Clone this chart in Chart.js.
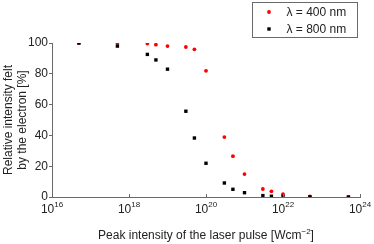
<!DOCTYPE html>
<html>
<head>
<meta charset="utf-8">
<script src="https://cdn.jsdelivr.net/npm/chart.js@4.4.0/dist/chart.umd.min.js"></script>
<style>
body { margin: 0; background: #fff; }
</style>
</head>
<body>
<canvas id="myChart" width="374" height="244"></canvas>
<script>
// peak intensity of the laser pulse (W/cm^2)
var intensity = [5e16, 5e17, 3e18, 5e18, 1e19, 3e19, 5e19, 1e20, 3e20, 5e20, 1e21, 3e21, 5e21, 1e22, 5e22, 5e23];
// relative intensity felt by the electron (%)
var relative400 = [100, 100, 99.6, 98.9, 98, 97.4, 95.9, 81.9, 38.9, 26.5, 14.9, 5.2, 3.7, 1.9, 0.4, 0];
var relative800 = [100, 98, 92.6, 89, 83, 55.7, 38.3, 21.9, 9.1, 5, 2.8, 0.9, 0.5, 0.4, 0.1, 0];
var seriesLabels = ['λ = 400 nm', 'λ = 800 nm'];
var xTickExp = [16, 18, 20, 22, 24];
var yTicks = [0, 20, 40, 60, 80, 100];

window.onload = function() {

var axisColor = '#6a6a6a';
var textColor = '#222';
var fontName = '"Liberation Sans", Arial, sans-serif';

function toPoints(ys) {
  var pts = [];
  for (var i = 0; i < intensity.length; i++) {
    pts.push({x: intensity[i], y: ys[i]});
  }
  return pts;
}

// x tick labels as 10^n, inside ticks, and the x axis title
var xAxisPlugin = {
  id: 'xAxisPlugin',
  afterDraw: function(chart) {
    var ctx = chart.ctx;
    var xs = chart.scales.x;
    var area = chart.chartArea;
    ctx.save();
    ctx.strokeStyle = axisColor;
    ctx.lineWidth = 1;
    ctx.fillStyle = textColor;
    ctx.textAlign = 'left';
    ctx.textBaseline = 'alphabetic';
    xTickExp.forEach(function(e) {
      var px = xs.getPixelForValue(Math.pow(10, e));
      ctx.beginPath();
      ctx.moveTo(Math.round(px) + 0.5, area.bottom);
      ctx.lineTo(Math.round(px) + 0.5, area.bottom - 3);
      ctx.stroke();
      ctx.font = '12px ' + fontName;
      var wb = ctx.measureText('10').width;
      ctx.font = '8px ' + fontName;
      var we = ctx.measureText(String(e)).width;
      var x0 = px - (wb + we) / 2;
      ctx.font = '12px ' + fontName;
      ctx.fillText('10', x0, area.bottom + 16);
      ctx.font = '8px ' + fontName;
      ctx.fillText(String(e), x0 + wb, area.bottom + 10);
    });
    // title
    var t1 = 'Peak intensity of the laser pulse [Wcm', t2 = '\u22122', t3 = ']';
    ctx.font = '12px ' + fontName;
    var w1 = ctx.measureText(t1).width, w3 = ctx.measureText(t3).width;
    ctx.font = '8px ' + fontName;
    var w2 = ctx.measureText(t2).width;
    var cx = (area.left + area.right) / 2;
    var sx = cx - (w1 + w2 + w3) / 2;
    var by = area.bottom + 42;
    ctx.font = '12px ' + fontName;
    ctx.fillText(t1, sx, by);
    ctx.fillText(t3, sx + w1 + w2, by);
    ctx.font = '8px ' + fontName;
    ctx.fillText(t2, sx + w1, by - 5);
    ctx.restore();
  }
};

// boxed legend in the top right corner
var boxLegend = {
  id: 'boxLegend',
  afterDraw: function(chart) {
    var ctx = chart.ctx;
    var bx = 252.5, by = 2.5, bw = 105, bh = 35;
    ctx.save();
    ctx.fillStyle = '#fff';
    ctx.fillRect(bx, by, bw, bh);
    ctx.strokeStyle = axisColor;
    ctx.lineWidth = 1;
    ctx.strokeRect(bx, by, bw, bh);
    chart.data.datasets.forEach(function(ds, i) {
      var y = by + 9.5 + i * 17;
      ctx.fillStyle = ds.backgroundColor;
      ctx.beginPath();
      if (ds.pointStyle === 'rect') {
        var s = ds.pointRadius * Math.SQRT1_2;
        ctx.rect(bx + 16.5 - s, y - s, 2 * s, 2 * s);
      } else {
        ctx.arc(bx + 16.5, y, ds.pointRadius, 0, Math.PI * 2);
      }
      ctx.fill();
      ctx.fillStyle = textColor;
      ctx.font = '12px ' + fontName;
      ctx.textAlign = 'left';
      ctx.textBaseline = 'middle';
      ctx.fillText(ds.label, bx + 34, y + 0.5);
    });
    ctx.restore();
  }
};

var ctx = document.getElementById('myChart');
var chart = new Chart(ctx, {
  type: 'scatter',
  data: {
    datasets: [{
      label: seriesLabels[0],
      data: toPoints(relative400),
      pointStyle: 'circle',
      pointRadius: 1.9,
      backgroundColor: '#ff0000',
      borderWidth: 0,
      order: 1
    }, {
      label: seriesLabels[1],
      data: toPoints(relative800),
      pointStyle: 'rect',
      pointRadius: 2.4,
      backgroundColor: '#000000',
      borderWidth: 0,
      order: 0
    }]
  },
  options: {
    responsive: false,
    animation: false,
    devicePixelRatio: 1,
    layout: { padding: { top: 43, right: 14, left: 0, bottom: 0 } },
    plugins: {
      legend: { display: false },
      tooltip: { enabled: false }
    },
    scales: {
      x: {
        type: 'logarithmic',
        min: 1e16,
        max: 1e24,
        grid: { display: false },
        border: { color: axisColor, width: 1 },
        ticks: { display: false },
        afterBuildTicks: function(scale) {
          scale.ticks = xTickExp.map(function(e) { return {value: Math.pow(10, e)}; });
        },
        afterFit: function(scale) { scale.height = 47; }
      },
      y: {
        min: 0,
        max: 100,
        grid: { drawOnChartArea: false, tickLength: 3, color: axisColor },
        border: { color: axisColor, width: 1 },
        ticks: {
          color: textColor,
          font: { family: fontName, size: 12 },
          padding: 1
        },
        afterBuildTicks: function(scale) {
          scale.ticks = yTicks.map(function(v) { return {value: v}; });
        },
        title: {
          display: true,
          text: ['Relative intensity felt', 'by the electron [%]'],
          color: textColor,
          font: { family: fontName, size: 12 },
          padding: { top: 1, bottom: 0 }
        },
        afterFit: function(scale) { scale.width = 52; }
      }
    }
  },
  plugins: [xAxisPlugin, boxLegend]
});

}
</script>
</body>
</html>
